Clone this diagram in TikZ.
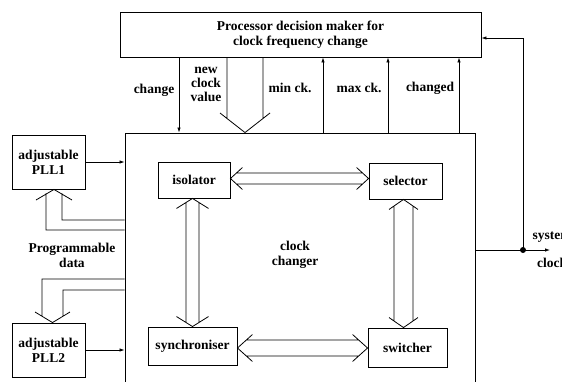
\documentclass[tikz,border=0pt]{standalone}
\usepackage{fontspec}
\setmainfont{Liberation Serif}
\usetikzlibrary{arrows.meta,calc}

% Double-shafted arrow with open heads at both ends, horizontal.
% #1 left tip, #2 right tip, #3 shaft half width, #4 head half width, #5 head length
\newcommand\fatH[5]{%
  \draw[wire] let \p1=(#1), \p2=(#2) in
    (\x1+#5pt,\y1+#4pt) -- (\x1,\y1) -- (\x1+#5pt,\y1-#4pt)
    (\x1+#5pt*#3/#4,\y1+#3pt) -- (\x2-#5pt*#3/#4,\y1+#3pt)
    (\x1+#5pt*#3/#4,\y1-#3pt) -- (\x2-#5pt*#3/#4,\y1-#3pt)
    (\x2-#5pt,\y1+#4pt) -- (\x2,\y1) -- (\x2-#5pt,\y1-#4pt);}
% Same, vertical: #1 upper tip, #2 lower tip
\newcommand\fatV[5]{%
  \draw[wire] let \p1=(#1), \p2=(#2) in
    (\x1-#4pt,\y1-#5pt) -- (\x1,\y1) -- (\x1+#4pt,\y1-#5pt)
    (\x1-#3pt,\y1-#5pt*#3/#4) -- (\x1-#3pt,\y2+#5pt*#3/#4)
    (\x1+#3pt,\y1-#5pt*#3/#4) -- (\x1+#3pt,\y2+#5pt*#3/#4)
    (\x1-#4pt,\y2+#5pt) -- (\x1,\y2) -- (\x1+#4pt,\y2+#5pt);}

\begin{document}
\begin{tikzpicture}[x=1pt,y=-1pt,
  font=\bfseries\fontsize{13.5}{15}\selectfont,
  box/.style={draw,line width=0.9pt,inner sep=0pt,align=center},
  wire/.style={line width=0.8pt},
  arr/.style={wire,-{Latex[length=5pt,width=3.5pt]}},
  lbl/.style={inner sep=0pt,align=center}]
\useasboundingbox (0,0) rectangle (562,381);
\clip (0,0) rectangle (562,381);

% main blocks
\node[box,minimum width=361pt,minimum height=45pt] (dec) at (300.5,34.5)
  {Processor decision maker for\\clock frequency change};
\node[box,minimum width=350pt,minimum height=262pt] (chg) at (300,264) {};
\node[lbl] (chglbl) at (295,255) {clock\\changer};
\node[box,minimum width=73pt,minimum height=54pt] (pll1) at (48.5,162) {adjustable\\PLL1};
\node[box,minimum width=73pt,minimum height=54pt] (pll2) at (48.5,350) {adjustable\\PLL2};

% blocks inside the clock changer
\node[box,minimum width=72pt,minimum height=36pt] (iso) at (194,180) {isolator};
\node[box,minimum width=73pt,minimum height=36pt] (sel) at (405.5,181) {selector};
\node[box,minimum width=89pt,minimum height=38pt] (syn) at (192.5,346) {synchroniser};
\node[box,minimum width=79pt,minimum height=39pt] (swi) at (407.5,347.5) {switcher};

% two-way links between the inner blocks
\fatH{[yshift=1.5pt]iso.east}{sel.west}{5.5}{11}{12}
\fatV{[xshift=-1.5pt]iso.south}{syn.north}{6.5}{16}{10}
\fatV{[xshift=-2pt]sel.south}{swi.north}{9.5}{14.5}{10}
\fatH{[yshift=-2pt]syn.east}{swi.west}{8}{13.5}{15}

% control signals between decision maker and clock changer
\draw[arr] (179,0 |- dec.south) -- (179,0 |- chg.north);
\draw[arr] (323,0 |- chg.north) -- (323,0 |- dec.south);
\draw[arr] (388,0 |- chg.north) -- (388,0 |- dec.south);
\draw[arr] (459,0 |- chg.north) -- (459,0 |- dec.south);
\coordinate (nctip) at (245,0 |- chg.north);
\draw[wire] (227,0 |- dec.south) -- (227,118.6)
            (263,0 |- dec.south) -- (263,118.6)
            (220,113) -- (nctip) -- (270,113);

\node[lbl] (lchange) at (154,90) {change};
\node[lbl,font=\bfseries\fontsize{13.5}{14}\selectfont] (lnew) at (206,84) {new\\clock\\value};
\node[lbl] (lmin) at (290,88) {min ck.};
\node[lbl] (lmax) at (359,88) {max ck.};
\node[lbl] (lchanged) at (430,88) {changed};

% PLL outputs and programmable data
\draw[arr] (pll1.east) -- (chg.west |- pll1.east);
\draw[arr] (pll2.east) -- (chg.west |- pll2.east);
\coordinate (p1tip) at (54,0 |- pll1.south);
\draw[wire] (36,200) -- (p1tip) -- (72,200)
            (46,193.3) -- (46,230) -- (chg.west |- 0,230)
            (62,193.3) -- (62,220) -- (chg.west |- 0,220);
\coordinate (p2tip) at (52.5,0 |- pll2.north);
\draw[wire] (35,312) -- (p2tip) -- (70,312)
            (42,316.4) -- (42,279) -- (chg.west |- 0,279)
            (63,316.4) -- (63,290) -- (chg.west |- 0,290);
\node[lbl] (lprog) at (72,255) {Programmable\\data};

% system clock output fed back to the decision maker
\coordinate (dot) at (523,250);
\draw[wire] (chg.east |- dot) -- (dot);
\draw[arr] (dot) -- (550,250);
\draw[arr] (dot) -- (523,38) -- (dec.east |- 0,38);
\fill (dot) circle[radius=3pt];
\node[lbl] (lsys) at (552,237) {system};
\node[lbl] (lclk) at (552,263) {clock};
\end{tikzpicture}
\end{document}
